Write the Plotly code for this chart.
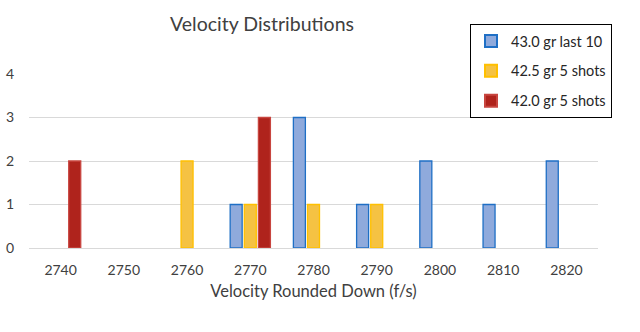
import plotly.graph_objects as go

categories = ["2740", "2750", "2760", "2770", "2780", "2790", "2800", "2810", "2820"]
series_names = ["43.0 gr last 10", "42.5 gr 5 shots", "42.0 gr 5 shots"]
s_430 = [0, 0, 0, 1, 3, 1, 2, 1, 2]
s_425 = [0, 0, 2, 1, 1, 1, 0, 0, 0]
s_420 = [2, 0, 0, 3, 0, 0, 0, 0, 0]

fills = ["#8FAADC", "#F5C243", "#AF231C"]
lines = ["#1F6FC5", "#FFC000", "#C8453F"]

FONT = "Lato"

fig = go.Figure()
for i, (name, vals, fc, lc) in enumerate(zip(series_names, [s_430, s_425, s_420], fills, lines)):
    yv = [v if v != 0 else None for v in vals]
    fig.add_trace(go.Bar(
        x=categories, y=yv, name=name, legendgroup=f"g{i}",
        marker=dict(color=fc, line=dict(color=lc, width=1.3)),
    ))

fig.update_layout(
    width=640, height=332,
    margin=dict(l=29, r=42, t=74, b=84, autoexpand=False),
    paper_bgcolor="white", plot_bgcolor="white",
    barmode="group", bargap=0.33, bargroupgap=0.15,
    font=dict(family=FONT, size=14, color="#404040"),
    title=dict(text="Velocity Distributions", x=262/640, xanchor="center",
               y=1 - 24/332, yanchor="middle",
               font=dict(family=FONT, size=19.5, color="#404040")),
    showlegend=True,
    legend=dict(x=612/640, xref="container", y=1 - 24/332, yref="container",
                xanchor="right", yanchor="top",
                bordercolor="#000000", borderwidth=1, bgcolor="white",
                font=dict(family=FONT, size=14.5, color="#262626"),
                tracegroupgap=8, itemsizing="constant", itemwidth=30),
    xaxis=dict(type="category", showgrid=False, showline=False, zeroline=False,
               ticks="", ticklabelstandoff=12, tickfont=dict(size=14, color="#404040"),
               title=dict(text="Velocity Rounded Down (f/s)", standoff=8,
                          font=dict(size=16.5, color="#404040"))),
    yaxis=dict(range=[0, 4], dtick=1, showgrid=True, gridcolor="#D9D9D9",
               gridwidth=1, zeroline=True, zerolinecolor="#D9D9D9",
               zerolinewidth=1, showline=False, ticks="",
               ticklabelstandoff=14, tickfont=dict(size=14, color="#404040")),
)

fig.write_html("out.html")
